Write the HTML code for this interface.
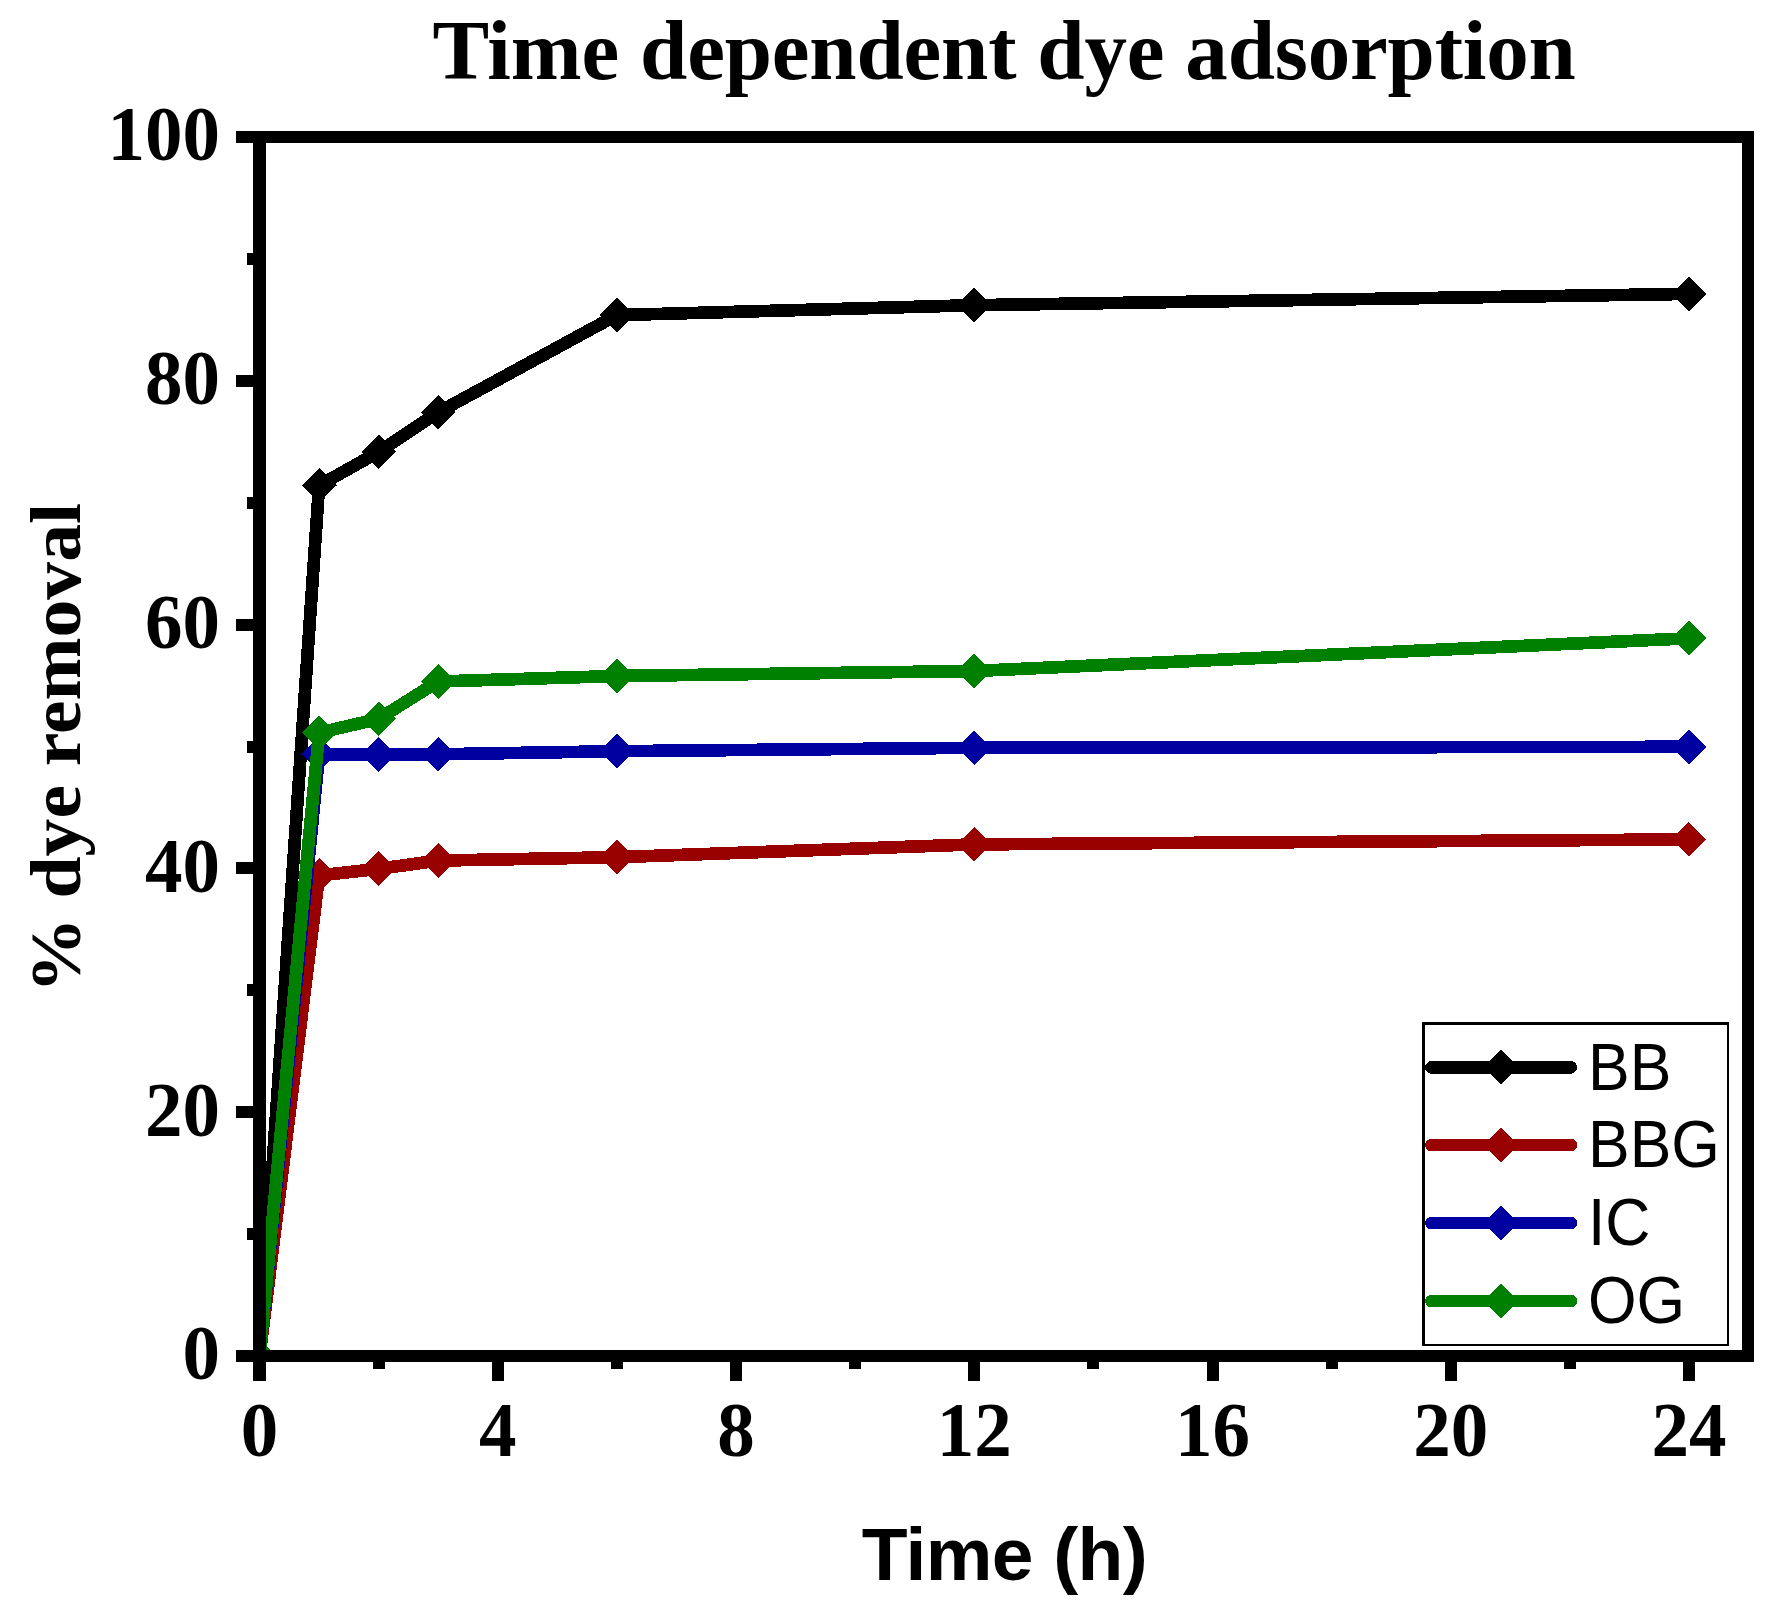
<!DOCTYPE html>
<html><head><meta charset="utf-8"><title>Time dependent dye adsorption</title>
<style>
html,body{margin:0;padding:0;background:#fff;}
svg{display:block;}
.serif{font-family:"Liberation Serif","Times New Roman",serif;font-weight:bold;}
.sans{font-family:"Liberation Sans",Arial,sans-serif;}
</style></head><body>
<svg width="1783" height="1611" viewBox="0 0 1783 1611" shape-rendering="crispEdges">
<rect width="1783" height="1611" fill="#fff"/>
<defs><clipPath id="plot"><rect x="259.5" y="137" width="1488.5" height="1219"/></clipPath></defs>

<text class="serif" x="1004" y="79.4" font-size="85" letter-spacing="-0.18" text-anchor="middle">Time dependent dye adsorption</text>
<g clip-path="url(#plot)">
<polyline points="259.5,1356.0 319.1,485.5 378.6,452.0 438.2,412.3 616.9,315.1 974.2,305.2 1688.9,293.9" fill="none" stroke="#000000" stroke-width="12.7" stroke-linejoin="round" stroke-linecap="round"/>
<polygon points="242.1,1356.0 259.5,1338.6 276.9,1356.0 259.5,1373.4" fill="#000000"/>
<polygon points="301.7,485.5 319.1,468.1 336.5,485.5 319.1,502.9" fill="#000000"/>
<polygon points="361.2,452.0 378.6,434.6 396.0,452.0 378.6,469.4" fill="#000000"/>
<polygon points="420.8,412.3 438.2,394.9 455.6,412.3 438.2,429.7" fill="#000000"/>
<polygon points="599.5,315.1 616.9,297.7 634.3,315.1 616.9,332.5" fill="#000000"/>
<polygon points="956.8,305.2 974.2,287.8 991.6,305.2 974.2,322.6" fill="#000000"/>
<polygon points="1671.5,293.9 1688.9,276.5 1706.3,293.9 1688.9,311.3" fill="#000000"/>
<polyline points="259.5,1356.0 319.1,875.4 378.6,868.8 438.2,860.6 616.9,857.2 974.2,844.4 1688.9,839.4" fill="none" stroke="#990000" stroke-width="12.7" stroke-linejoin="round" stroke-linecap="round"/>
<polygon points="242.1,1356.0 259.5,1338.6 276.9,1356.0 259.5,1373.4" fill="#990000"/>
<polygon points="301.7,875.4 319.1,858.0 336.5,875.4 319.1,892.8" fill="#990000"/>
<polygon points="361.2,868.8 378.6,851.4 396.0,868.8 378.6,886.2" fill="#990000"/>
<polygon points="420.8,860.6 438.2,843.2 455.6,860.6 438.2,878.0" fill="#990000"/>
<polygon points="599.5,857.2 616.9,839.8 634.3,857.2 616.9,874.6" fill="#990000"/>
<polygon points="956.8,844.4 974.2,827.0 991.6,844.4 974.2,861.8" fill="#990000"/>
<polygon points="1671.5,839.4 1688.9,822.0 1706.3,839.4 1688.9,856.8" fill="#990000"/>
<polyline points="259.5,1356.0 319.1,754.3 378.6,754.3 438.2,754.3 616.9,751.2 974.2,747.8 1688.9,746.8" fill="none" stroke="#0000A0" stroke-width="12.7" stroke-linejoin="round" stroke-linecap="round"/>
<polygon points="242.1,1356.0 259.5,1338.6 276.9,1356.0 259.5,1373.4" fill="#0000A0"/>
<polygon points="301.7,754.3 319.1,736.9 336.5,754.3 319.1,771.7" fill="#0000A0"/>
<polygon points="361.2,754.3 378.6,736.9 396.0,754.3 378.6,771.7" fill="#0000A0"/>
<polygon points="420.8,754.3 438.2,736.9 455.6,754.3 438.2,771.7" fill="#0000A0"/>
<polygon points="599.5,751.2 616.9,733.8 634.3,751.2 616.9,768.6" fill="#0000A0"/>
<polygon points="956.8,747.8 974.2,730.4 991.6,747.8 974.2,765.2" fill="#0000A0"/>
<polygon points="1671.5,746.8 1688.9,729.4 1706.3,746.8 1688.9,764.2" fill="#0000A0"/>
<polyline points="259.5,1356.0 319.1,732.7 378.6,718.9 438.2,681.5 616.9,676.0 974.2,671.0 1688.9,638.3" fill="none" stroke="#008000" stroke-width="12.7" stroke-linejoin="round" stroke-linecap="round"/>
<polygon points="242.1,1356.0 259.5,1338.6 276.9,1356.0 259.5,1373.4" fill="#008000"/>
<polygon points="301.7,732.7 319.1,715.3 336.5,732.7 319.1,750.1" fill="#008000"/>
<polygon points="361.2,718.9 378.6,701.5 396.0,718.9 378.6,736.3" fill="#008000"/>
<polygon points="420.8,681.5 438.2,664.1 455.6,681.5 438.2,698.9" fill="#008000"/>
<polygon points="599.5,676.0 616.9,658.6 634.3,676.0 616.9,693.4" fill="#008000"/>
<polygon points="956.8,671.0 974.2,653.6 991.6,671.0 974.2,688.4" fill="#008000"/>
<polygon points="1671.5,638.3 1688.9,620.9 1706.3,638.3 1688.9,655.7" fill="#008000"/>
</g>
<g fill="#000">
<rect x="253" y="131" width="13" height="1231"/>
<rect x="1742" y="131" width="12" height="1231"/>
<rect x="253" y="131" width="1501" height="12"/>
<rect x="253" y="1349.5" width="1501" height="12.5"/>
<rect x="236" y="1350.0" width="18" height="12"/>
<rect x="247" y="1228.1" width="7" height="12"/>
<rect x="236" y="1106.2" width="18" height="12"/>
<rect x="247" y="984.3" width="7" height="12"/>
<rect x="236" y="862.4" width="18" height="12"/>
<rect x="247" y="740.5" width="7" height="12"/>
<rect x="236" y="618.6" width="18" height="12"/>
<rect x="247" y="496.7" width="7" height="12"/>
<rect x="236" y="374.8" width="18" height="12"/>
<rect x="247" y="252.9" width="7" height="12"/>
<rect x="236" y="131.0" width="18" height="12"/>
<rect x="253" y="1361" width="13" height="20"/>
<rect x="372.6" y="1361" width="12" height="8"/>
<rect x="491.7" y="1361" width="12" height="19.6"/>
<rect x="610.9" y="1361" width="12" height="8"/>
<rect x="730.0" y="1361" width="12" height="19.6"/>
<rect x="849.1" y="1361" width="12" height="8"/>
<rect x="968.2" y="1361" width="12" height="19.6"/>
<rect x="1087.3" y="1361" width="12" height="8"/>
<rect x="1206.5" y="1361" width="12" height="19.6"/>
<rect x="1325.6" y="1361" width="12" height="8"/>
<rect x="1444.7" y="1361" width="12" height="19.6"/>
<rect x="1563.8" y="1361" width="12" height="8"/>
<rect x="1682.9" y="1361" width="12" height="19.6"/>
</g>
<g class="serif" font-size="75">
<text transform="translate(220,1379.4) scale(1,1.05)" text-anchor="end">0</text>
<text transform="translate(220,1135.6) scale(1,1.05)" text-anchor="end">20</text>
<text transform="translate(220,891.8) scale(1,1.05)" text-anchor="end">40</text>
<text transform="translate(220,648.0) scale(1,1.05)" text-anchor="end">60</text>
<text transform="translate(220,404.2) scale(1,1.05)" text-anchor="end">80</text>
<text transform="translate(220,160.4) scale(1,1.05)" text-anchor="end">100</text>
<text transform="translate(259.5,1456.4) scale(1,1.05)" text-anchor="middle">0</text>
<text transform="translate(497.7,1456.4) scale(1,1.05)" text-anchor="middle">4</text>
<text transform="translate(736.0,1456.4) scale(1,1.05)" text-anchor="middle">8</text>
<text transform="translate(974.2,1456.4) scale(1,1.05)" text-anchor="middle">12</text>
<text transform="translate(1212.5,1456.4) scale(1,1.05)" text-anchor="middle">16</text>
<text transform="translate(1450.7,1456.4) scale(1,1.05)" text-anchor="middle">20</text>
<text transform="translate(1688.9,1456.4) scale(1,1.05)" text-anchor="middle">24</text>
</g>
<text class="serif" font-size="71.6" text-anchor="middle" transform="translate(79.8,748) rotate(-90) scale(1.056,1)">% dye removal</text>
<text class="sans" font-weight="bold" font-size="75" letter-spacing="-0.6" x="1004.4" y="1580" text-anchor="middle">Time (h)</text>
<rect x="1423.25" y="1023.25" width="304.5" height="321.5" fill="#fff" stroke="#000" stroke-width="2.5"/>
<line x1="1431.4" y1="1067.4" x2="1570.8" y2="1067.4" stroke="#000000" stroke-width="12.6" stroke-linecap="round"/>
<polygon points="1483.6,1067.4 1501.0,1050.0 1518.4,1067.4 1501.0,1084.8" fill="#000000"/>
<text class="sans" font-size="62.5" transform="translate(1588,1089.9) scale(1,1.065)">BB</text>
<line x1="1431.4" y1="1145.1" x2="1570.8" y2="1145.1" stroke="#990000" stroke-width="12.6" stroke-linecap="round"/>
<polygon points="1483.6,1145.1 1501.0,1127.7 1518.4,1145.1 1501.0,1162.5" fill="#990000"/>
<text class="sans" font-size="62.5" transform="translate(1588,1167) scale(1,1.065)">BBG</text>
<line x1="1431.4" y1="1223.1" x2="1570.8" y2="1223.1" stroke="#0000A0" stroke-width="12.6" stroke-linecap="round"/>
<polygon points="1483.6,1223.1 1501.0,1205.7 1518.4,1223.1 1501.0,1240.5" fill="#0000A0"/>
<text class="sans" font-size="62.5" transform="translate(1588,1244.9) scale(1,1.065)">IC</text>
<line x1="1431.4" y1="1301.1" x2="1570.8" y2="1301.1" stroke="#008000" stroke-width="12.6" stroke-linecap="round"/>
<polygon points="1483.6,1301.1 1501.0,1283.7 1518.4,1301.1 1501.0,1318.5" fill="#008000"/>
<text class="sans" font-size="62.5" transform="translate(1588,1322.8) scale(1,1.065)">OG</text>
</svg></body></html>
